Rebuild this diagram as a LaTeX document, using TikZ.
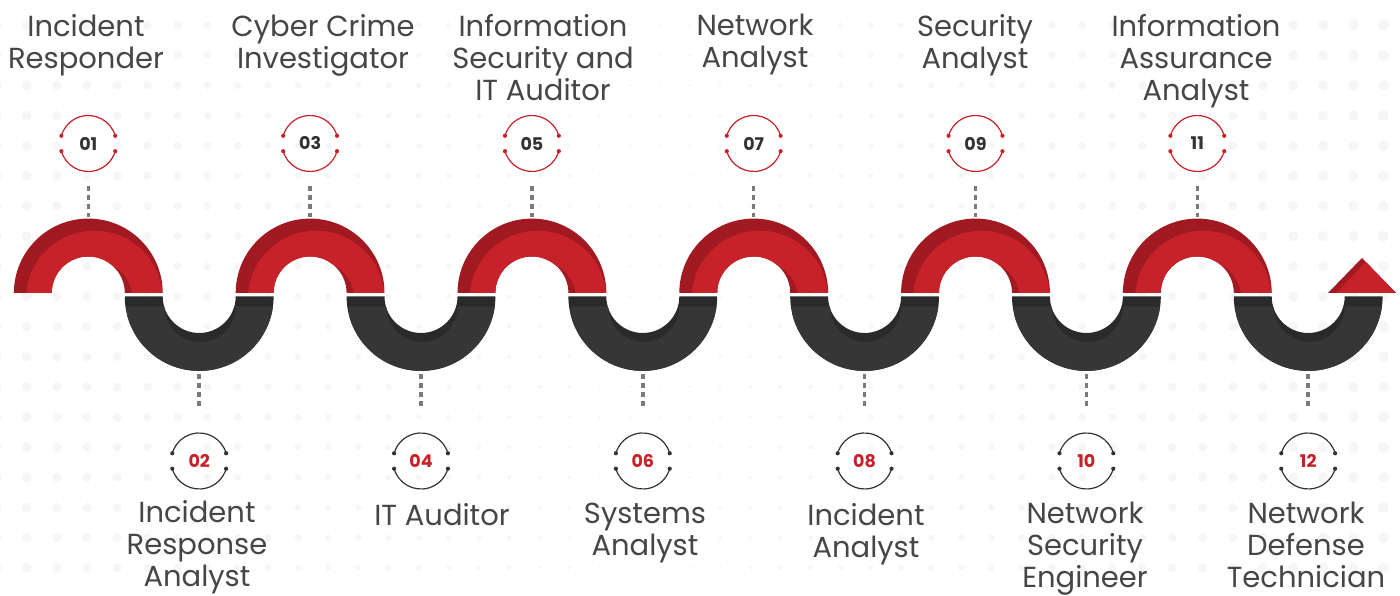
\documentclass[tikz,border=0pt]{standalone}
\usepackage{fontspec}
\setmainfont{Poppins}
\definecolor{reddark}{HTML}{A11A22}
\definecolor{redlight}{HTML}{C72129}
\definecolor{blackdark}{HTML}{2A2A2A}
\definecolor{blacklight}{HTML}{363636}
\definecolor{dotc}{HTML}{F6F6F6}
\definecolor{txt}{HTML}{464646}
\definecolor{numdark}{HTML}{333333}
\definecolor{dashc}{HTML}{7A7A7A}
\tikzset{
  lbl/.style={anchor=north,inner sep=0pt,align=center,text=txt,font=\fontsize{29}{32}\selectfont},
  num/.style={inner sep=0pt,font=\fontsize{17.5}{17.5}\selectfont\bfseries},
  dashline/.style={draw=dashc,line width=3.5pt,dash pattern=on 5.5pt off 3.5pt},
}
\begin{document}
\begin{tikzpicture}[x=1pt,y=1pt]
\useasboundingbox (0,0) rectangle (1400,596);
\fill[white] (0,0) rectangle (1400,596);
% background dots
\foreach \i in {-1,...,45} {
  \foreach \j in {1,...,19} {
    \pgfmathsetmacro\dx{26.7+30.15*\i}
    \pgfmathsetmacro\dy{596-(206+30.15*(\j-7))}
    \pgfmathsetmacro\dr{1.3+4*abs(\dx-650)/700}
    \fill[dotc] (\dx,\dy) circle (\dr);
  }
}
% red arcs
\foreach \i in {0,...,5} {
  \pgfmathsetmacro\cx{88.3+221.8*\i}
  \begin{scope}
    \path[clip] (\cx-74.4,303) arc[start angle=180,end angle=0,radius=74.4]
      -- (\cx+36.5,303) arc[start angle=0,end angle=180,radius=36.5] -- cycle;
    \fill[reddark] (\cx-80,300) rectangle (\cx+80,380);
    \fill[redlight,even odd rule] (\cx+6,297) circle (68.3) (\cx+6,297) circle (38.2);
  \end{scope}
  \draw[dashline] (\cx,410) -- (\cx,379);
}
% black arcs
\foreach \i in {0,...,5} {
  \pgfmathsetmacro\cx{199.2+221.8*\i}
  \begin{scope}
    \path[clip] (\cx-74.4,299.5) arc[start angle=180,end angle=360,radius=74.4]
      -- (\cx+36.5,299.5) arc[start angle=360,end angle=180,radius=36.5] -- cycle;
    \fill[blackdark] (\cx-80,200) rectangle (\cx+80,300);
    \fill[blacklight] (\cx+1-73.5,289.5) arc[start angle=180,end angle=360,radius=73.5]
      -- (\cx+1+35.5,289.5) arc[start angle=360,end angle=180,radius=35.5] -- cycle;
  \end{scope}
  \draw[dashline] (\cx,222) -- (\cx,188);
}
% arrow head
\begin{scope}
  \path[clip] (1328,303) -- (1362,338) -- (1396,303) -- cycle;
  \fill[reddark] (1320,300) rectangle (1400,340);
  \fill[redlight] (1336,303) -- (1370,338) -- (1404,303) -- cycle;
\end{scope}
% number markers
\foreach \k/\nx in {01/88.3,03/310.1,05/531.9,07/753.7,09/975.5,11/1197.3} {
  \node[num,text=numdark] (n\k) at (\nx,452.5) {\k};
  \draw[redlight,line width=1.2pt] (n\k.center) ++(16:28) arc[start angle=16,end angle=164,radius=28];
  \draw[redlight,line width=1.2pt] (n\k.center) ++(196:28) arc[start angle=196,end angle=344,radius=28];
  \foreach \a in {16,164,196,344} \fill[redlight] (n\k.center) ++(\a:28) circle (2.1);
}
\foreach \k/\nx in {02/199.2,04/421,06/642.8,08/864.6,10/1086.4,12/1308.2} {
  \node[num,text=redlight] (n\k) at (\nx,135) {\k};
  \draw[numdark,line width=1.2pt] (n\k.center) ++(16:28) arc[start angle=16,end angle=164,radius=28];
  \draw[numdark,line width=1.2pt] (n\k.center) ++(196:28) arc[start angle=196,end angle=344,radius=28];
  \foreach \a in {16,164,196,344} \fill[numdark] (n\k.center) ++(\a:28) circle (2.1);
}
% labels
\node[lbl] (l01) at (86,582) {Incident\\Responder};
\node[lbl] (l03) at (323,582) {Cyber Crime\\Investigator};
\node[lbl] (l05) at (543,582) {Information\\Security and\\IT Auditor};
\node[lbl] (l07) at (755,582) {Network\\Analyst};
\node[lbl] (l09) at (975,582) {Security\\Analyst};
\node[lbl] (l11) at (1196,582) {Information\\Assurance\\Analyst};
\node[lbl] (l02) at (197,96) {Incident\\Response\\Analyst};
\node[lbl] (l04) at (442,93) {IT Auditor};
\node[lbl] (l06) at (645,93) {Systems\\Analyst};
\node[lbl] (l08) at (866,93) {Incident\\Analyst};
\node[lbl] (l10) at (1085,94) {Network\\Security\\Engineer};
\node[lbl] (l12) at (1306,94) {Network\\Defense\\Technician};
\end{tikzpicture}
\end{document}
